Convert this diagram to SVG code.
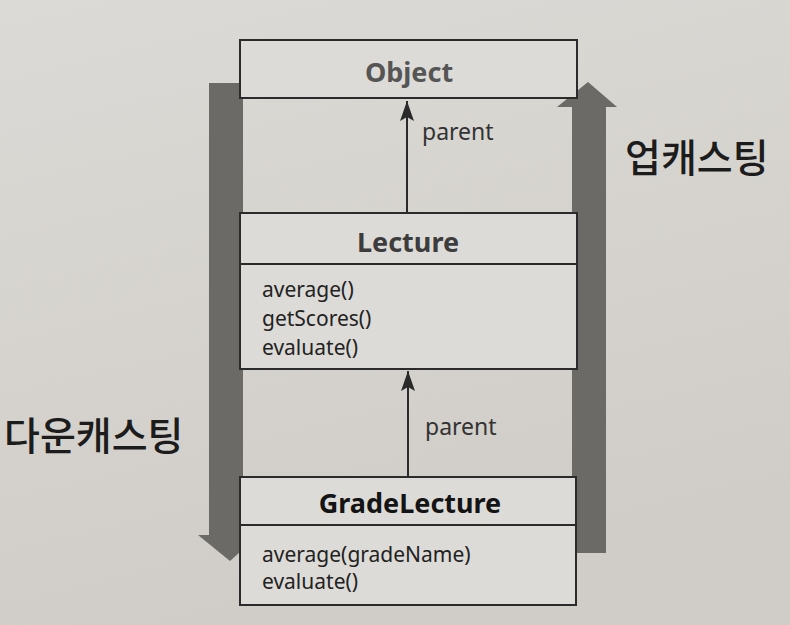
<svg xmlns="http://www.w3.org/2000/svg" width="790" height="625" viewBox="0 0 790 625">
<defs>
<linearGradient id="bg" x1="0" y1="0" x2="0.3" y2="1">
<stop offset="0" stop-color="#dcdad6"/>
<stop offset="1" stop-color="#d0cdc8"/>
</linearGradient>
<marker id="ah" viewBox="0 0 20 14" refX="20" refY="7" markerWidth="20" markerHeight="14" markerUnits="userSpaceOnUse" orient="auto">
<path d="M0,0 L20,7 L0,14 L4,7 Z" fill="#2a2a2a"/>
</marker>
<style>
.box{fill:#dddbd7;stroke:#2b2b2b;stroke-width:2}
.div{stroke:#2b2b2b;stroke-width:2}
.title{font-family:"Noto Sans","Liberation Sans",sans-serif;font-weight:bold;font-size:27px;text-anchor:middle}
.m{font-family:"Noto Sans","Liberation Sans",sans-serif;font-size:21px;fill:#222}
.lbl{font-family:"Noto Sans","Liberation Sans",sans-serif;font-size:23px;fill:#333}
.ko{font-family:"Noto Sans CJK KR","Noto Sans",sans-serif;font-weight:500;font-size:39px;fill:#1c1c1c}
.big{fill:#6c6a67}
.conn{stroke:#2a2a2a;stroke-width:2;fill:none}
</style>
</defs>
<rect width="790" height="625" fill="url(#bg)"/>
<g id="downcast">
<rect class="big" x="209" y="83" width="34" height="453"/>
<polygon class="big" points="198,535 259,535 230,561"/>
<text class="ko" x="4" y="450">다운캐스팅</text>
</g>
<g id="upcast">
<rect class="big" x="572" y="106" width="34" height="447"/>
<polygon class="big" points="557,107 617,107 588,82"/>
<text class="ko" x="625" y="172">업캐스팅</text>
</g>
<g id="connectors">
<line class="conn" x1="407" y1="213" x2="407" y2="101" marker-end="url(#ah)"/>
<text class="lbl" x="422" y="140">parent</text>
<line class="conn" x1="408" y1="477" x2="408" y2="371" marker-end="url(#ah)"/>
<text class="lbl" x="425" y="435">parent</text>
</g>
<g id="object">
<rect class="box" x="240" y="40" width="337" height="58"/>
<text class="title" x="409" y="82" fill="#555">Object</text>
</g>
<g id="lecture">
<rect class="box" x="240" y="213" width="337" height="156"/>
<line class="div" x1="240" y1="264" x2="577" y2="264"/>
<text class="title" x="408" y="252" fill="#3c3c3c">Lecture</text>
<text class="m" x="262" y="297">average()</text>
<text class="m" x="262" y="326">getScores()</text>
<text class="m" x="262" y="355">evaluate()</text>
</g>
<g id="gradelecture">
<rect class="box" x="240" y="477" width="336" height="128"/>
<line class="div" x1="240" y1="525" x2="576" y2="525"/>
<text class="title" x="410" y="513" fill="#141414">GradeLecture</text>
<text class="m" x="262" y="562">average(gradeName)</text>
<text class="m" x="262" y="589">evaluate()</text>
</g>
</svg>
